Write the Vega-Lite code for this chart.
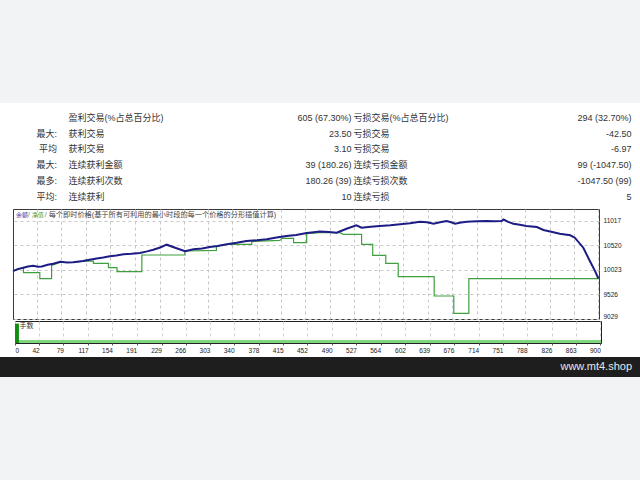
{
  "$schema": "https://vega.github.io/schema/vega-lite/v6.json",
  "padding": 0,
  "background": "#ffffff",
  "spacing": 0,
  "bounds": "full",
  "config": {
    "view": {"stroke": null},
    "font": "Liberation Sans, Noto Sans CJK SC, sans-serif",
    "text": {"font": "Liberation Sans, Noto Sans CJK SC, sans-serif"},
    "axis": {"labelFont": "Liberation Sans, DejaVu Sans, sans-serif", "labelColor": "#222222"}
  },
  "datasets": {
    "stats": [
      {"row": 1, "a": "", "b": "盈利交易(%占总百分比)", "c": "605 (67.30%)", "d": "亏损交易(%占总百分比)", "e": "294 (32.70%)"},
      {"row": 2, "a": "最大:", "b": "获利交易", "c": "23.50", "d": "亏损交易", "e": "-42.50"},
      {"row": 3, "a": "平均", "b": "获利交易", "c": "3.10", "d": "亏损交易", "e": "-6.97"},
      {"row": 4, "a": "最大:", "b": "连续获利金额", "c": "39 (180.26)", "d": "连续亏损金额", "e": "99 (-1047.50)"},
      {"row": 5, "a": "最多:", "b": "连续获利次数", "c": "180.26 (39)", "d": "连续亏损次数", "e": "-1047.50 (99)"},
      {"row": 6, "a": "平均:", "b": "连续获利", "c": "10", "d": "连续亏损", "e": "5"}
    ],
    "balance": [
      {"t": 5, "bal": 10000}, {"t": 12, "bal": 10040}, {"t": 20.7, "bal": 10069}, {"t": 28, "bal": 10095},
      {"t": 36, "bal": 10110}, {"t": 43, "bal": 10090}, {"t": 49, "bal": 10094}, {"t": 58, "bal": 10130},
      {"t": 66.6, "bal": 10151}, {"t": 77, "bal": 10189}, {"t": 88, "bal": 10175}, {"t": 97, "bal": 10179},
      {"t": 112, "bal": 10205}, {"t": 122, "bal": 10230}, {"t": 133, "bal": 10256}, {"t": 143, "bal": 10275},
      {"t": 153, "bal": 10301}, {"t": 163, "bal": 10318}, {"t": 174, "bal": 10341}, {"t": 186, "bal": 10352},
      {"t": 199, "bal": 10368}, {"t": 210, "bal": 10400}, {"t": 219.5, "bal": 10435}, {"t": 230, "bal": 10480},
      {"t": 240, "bal": 10536}, {"t": 254, "bal": 10470}, {"t": 268, "bal": 10402}, {"t": 281, "bal": 10443},
      {"t": 294, "bal": 10460}, {"t": 306, "bal": 10489}, {"t": 318, "bal": 10510}, {"t": 332, "bal": 10544},
      {"t": 347, "bal": 10575}, {"t": 362, "bal": 10611}, {"t": 378, "bal": 10625}, {"t": 393, "bal": 10646},
      {"t": 408, "bal": 10680}, {"t": 423, "bal": 10713}, {"t": 438, "bal": 10735}, {"t": 454, "bal": 10774},
      {"t": 465, "bal": 10790}, {"t": 474, "bal": 10804}, {"t": 488, "bal": 10795}, {"t": 500, "bal": 10780},
      {"t": 515, "bal": 10860}, {"t": 530, "bal": 10930}, {"t": 538, "bal": 10881}, {"t": 552, "bal": 10900},
      {"t": 566, "bal": 10916}, {"t": 582, "bal": 10930}, {"t": 597, "bal": 10950}, {"t": 612, "bal": 10970},
      {"t": 627, "bal": 11003}, {"t": 638, "bal": 10990}, {"t": 648, "bal": 10962}, {"t": 658, "bal": 10990},
      {"t": 668, "bal": 11017}, {"t": 675, "bal": 10990}, {"t": 681, "bal": 10962}, {"t": 690, "bal": 10985},
      {"t": 699, "bal": 11003}, {"t": 714, "bal": 11010}, {"t": 729, "bal": 11017}, {"t": 741, "bal": 11010},
      {"t": 752, "bal": 11017}, {"t": 755, "bal": 11047}, {"t": 762, "bal": 11000}, {"t": 770, "bal": 10962},
      {"t": 780, "bal": 10940}, {"t": 790, "bal": 10916}, {"t": 806, "bal": 10895}, {"t": 816, "bal": 10834},
      {"t": 828, "bal": 10800}, {"t": 841, "bal": 10759}, {"t": 857, "bal": 10727}, {"t": 864, "bal": 10678},
      {"t": 877, "bal": 10475}, {"t": 887, "bal": 10205}, {"t": 895, "bal": 10000}, {"t": 900, "bal": 9850}
    ],
    "equity": [
      {"t": 5, "eq": 10000}, {"t": 21, "eq": 10069}, {"t": 21, "eq": 9968}, {"t": 46, "eq": 9968},
      {"t": 46, "eq": 9846}, {"t": 64, "eq": 9846}, {"t": 64, "eq": 10118}, {"t": 77, "eq": 10175},
      {"t": 97, "eq": 10175}, {"t": 112, "eq": 10200}, {"t": 128, "eq": 10205}, {"t": 128, "eq": 10159},
      {"t": 151, "eq": 10159}, {"t": 151, "eq": 10069}, {"t": 164, "eq": 10069}, {"t": 164, "eq": 9988},
      {"t": 202, "eq": 9988}, {"t": 202, "eq": 10327}, {"t": 268, "eq": 10327}, {"t": 268, "eq": 10408},
      {"t": 316, "eq": 10422}, {"t": 316, "eq": 10510}, {"t": 332, "eq": 10544}, {"t": 370, "eq": 10544},
      {"t": 370, "eq": 10600}, {"t": 413, "eq": 10625}, {"t": 416, "eq": 10666}, {"t": 434, "eq": 10666},
      {"t": 434, "eq": 10577}, {"t": 454, "eq": 10577}, {"t": 454, "eq": 10759}, {"t": 474, "eq": 10780},
      {"t": 505, "eq": 10780}, {"t": 510, "eq": 10747}, {"t": 538, "eq": 10747}, {"t": 538, "eq": 10544},
      {"t": 555, "eq": 10544}, {"t": 555, "eq": 10321}, {"t": 575, "eq": 10321}, {"t": 575, "eq": 10159},
      {"t": 594, "eq": 10159}, {"t": 594, "eq": 9887}, {"t": 649, "eq": 9887}, {"t": 649, "eq": 9495},
      {"t": 679, "eq": 9495}, {"t": 679, "eq": 9144}, {"t": 702, "eq": 9144}, {"t": 702, "eq": 9846},
      {"t": 901, "eq": 9846}
    ],
    "lotsFirst": [{"from": 5, "to": 11, "lots": 0.88}],
    "lotsRest": [{"t": 5, "lots": 0.07}, {"t": 901, "lots": 0.07}]
  },
  "vconcat": [
    {
      "width": 640, "height": 103,
      "view": {"fill": "#f2f3f5", "stroke": null},
      "data": {"values": [{"s": " "}]},
      "mark": {"type": "text"},
      "encoding": {"text": {"field": "s"}}
    },
    {
      "width": 640, "height": 105,
      "data": {"name": "stats"},
      "transform": [{"fold": ["a", "b", "c", "d", "e"], "as": ["col", "txt"]}],
      "encoding": {
        "y": {"field": "row", "type": "ordinal", "scale": {"type": "point", "range": [14.7, 93.7], "padding": 0}, "axis": null},
        "text": {"field": "txt"}
      },
      "layer": [
        {
          "transform": [{"filter": "datum.col == 'a'"}],
          "mark": {"type": "text", "align": "right", "baseline": "middle", "fontSize": 9, "color": "#333333"},
          "encoding": {"x": {"field": "col", "type": "nominal", "scale": {"type": "point", "domain": ["a"], "range": [57, 57], "padding": 0}, "axis": null}}
        },
        {
          "transform": [{"filter": "datum.col == 'b' || datum.col == 'd'"}],
          "mark": {"type": "text", "align": "left", "baseline": "middle", "fontSize": 9, "color": "#333333"},
          "encoding": {"x": {"field": "col", "type": "nominal", "scale": {"type": "point", "domain": ["b", "d"], "range": [68.5, 353.5], "padding": 0}, "axis": null}}
        },
        {
          "transform": [{"filter": "datum.col == 'c' || datum.col == 'e'"}],
          "mark": {"type": "text", "align": "right", "baseline": "middle", "fontSize": 9, "color": "#333333"},
          "encoding": {"x": {"field": "col", "type": "nominal", "scale": {"type": "point", "domain": ["c", "e"], "range": [351.5, 631.5], "padding": 0}, "axis": null}}
        }
      ],
      "resolve": {"scale": {"x": "independent"}}
    },
    {
      "spacing": 0,
      "hconcat": [
        {
          "width": 8, "height": 110,
          "view": {"fill": "#ffffff", "stroke": null},
          "data": {"values": [{"s": " "}]},
          "mark": {"type": "text"},
          "encoding": {"text": {"field": "s"}}
        },
        {
          "width": 586, "height": 110,
          "view": {"stroke": "#3a3a3a", "strokeWidth": 1},
          "layer": [
            {
              "data": {"name": "equity"},
              "mark": {"type": "line", "color": "#3f9f3f", "strokeWidth": 1.2},
              "encoding": {
                "x": {"field": "t", "type": "quantitative", "scale": {"domain": [5, 901], "nice": false, "zero": false},
                      "axis": {"orient": "bottom", "values": [42, 79, 117, 154, 191, 229, 266, 303, 340, 378, 415, 452, 490, 527, 564, 602, 639, 676, 714, 751, 788, 826, 863, 900],
                               "labels": false, "ticks": false, "domain": false, "grid": true, "gridColor": "#c8c8c8", "gridDash": [3, 3], "title": null, "minExtent": 0, "maxExtent": 0}},
                "y": {"field": "eq", "type": "quantitative", "scale": {"domain": [9029, 11260], "nice": false, "zero": false},
                      "axis": {"orient": "right", "values": [9029, 9526, 10023, 10520, 11017], "format": "d", "grid": true, "gridColor": "#c8c8c8", "gridDash": [3, 3],
                               "ticks": false, "domain": false, "labelPadding": 4, "labelFontSize": 6.5, "labelFlush": true, "title": null}}
              }
            },
            {
              "data": {"name": "balance"},
              "mark": {"type": "line", "color": "#1c1c84", "strokeWidth": 2},
              "encoding": {
                "x": {"field": "t", "type": "quantitative", "axis": null},
                "y": {"field": "bal", "type": "quantitative", "axis": null}
              }
            },
            {
              "data": {"values": [{"s": "余额"}]},
              "mark": {"type": "text", "align": "left", "baseline": "middle", "fontSize": 6, "color": "#3a3aa8"},
              "encoding": {"x": {"datum": 9.6, "type": "quantitative", "axis": null}, "y": {"datum": 11138, "type": "quantitative", "axis": null}, "text": {"field": "s"}}
            },
            {
              "data": {"values": [{"s": "/"}]},
              "mark": {"type": "text", "align": "left", "baseline": "middle", "fontSize": 7, "color": "#777777"},
              "encoding": {"x": {"datum": 28, "type": "quantitative", "axis": null}, "y": {"datum": 11138, "type": "quantitative", "axis": null}, "text": {"field": "s"}}
            },
            {
              "data": {"values": [{"s": "净值"}]},
              "mark": {"type": "text", "align": "left", "baseline": "middle", "fontSize": 6, "color": "#3aa03a"},
              "encoding": {"x": {"datum": 33.5, "type": "quantitative", "axis": null}, "y": {"datum": 11138, "type": "quantitative", "axis": null}, "text": {"field": "s"}}
            },
            {
              "data": {"values": [{"s": "/"}]},
              "mark": {"type": "text", "align": "left", "baseline": "middle", "fontSize": 7, "color": "#777777"},
              "encoding": {"x": {"datum": 53.5, "type": "quantitative", "axis": null}, "y": {"datum": 11138, "type": "quantitative", "axis": null}, "text": {"field": "s"}}
            },
            {
              "data": {"values": [{"s": "每个即时价格(基于所有可利用的最小时段的每一个价格的分形插值计算)"}]},
              "mark": {"type": "text", "align": "left", "baseline": "middle", "fontSize": 7.2, "color": "#444444"},
              "encoding": {"x": {"datum": 59.5, "type": "quantitative", "axis": null}, "y": {"datum": 11138, "type": "quantitative", "axis": null}, "text": {"field": "s"}}
            }
          ],
          "resolve": {"axis": {"x": "independent", "y": "independent"}}
        }
      ]
    },
    {
      "spacing": 0,
      "hconcat": [
        {
          "width": 8, "height": 22,
          "view": {"fill": "#ffffff", "stroke": null},
          "data": {"values": [{"s": " "}]},
          "mark": {"type": "text"},
          "encoding": {"text": {"field": "s"}}
        },
        {
          "width": 586, "height": 22,
          "view": {"stroke": "#222222", "strokeWidth": 1},
          "layer": [
            {
              "data": {"name": "lotsRest"},
              "mark": {"type": "line", "color": "#7fd67f", "strokeWidth": 3},
              "encoding": {
                "x": {"field": "t", "type": "quantitative", "scale": {"domain": [5, 901], "nice": false, "zero": false},
                      "axis": {"orient": "bottom", "values": [5, 42, 79, 117, 154, 191, 229, 266, 303, 340, 378, 415, 452, 490, 527, 564, 602, 639, 676, 714, 751, 788, 826, 863, 900],
                               "labelExpr": "datum.value == 5 ? '0' : datum.label",
                               "labelAlign": {"condition": {"test": "datum.value == 5", "value": "left"}, "value": "right"},
                               "labelFontSize": 6.5, "labelPadding": 2, "tickSize": 2, "tickColor": "#555555", "labelOverlap": false,
                               "domain": false, "grid": true, "gridColor": "#d0d0d0", "gridDash": [3, 3], "title": null, "minExtent": 13, "maxExtent": 13}},
                "y": {"field": "lots", "type": "quantitative", "scale": {"domain": [0, 1], "nice": false}, "axis": null}
              }
            },
            {
              "data": {"name": "lotsFirst"},
              "mark": {"type": "rect", "color": "#0f8f0f"},
              "encoding": {
                "x": {"field": "from", "type": "quantitative", "axis": null},
                "x2": {"field": "to"},
                "y": {"field": "lots", "type": "quantitative", "axis": null},
                "y2": {"datum": 0}
              }
            },
            {
              "data": {"values": [{"s": "手数"}]},
              "mark": {"type": "text", "align": "left", "baseline": "middle", "fontSize": 7, "color": "#333333"},
              "encoding": {"x": {"datum": 11.8, "type": "quantitative", "axis": null}, "y": {"datum": 0.78, "type": "quantitative", "axis": null}, "text": {"field": "s"}}
            }
          ],
          "resolve": {"axis": {"x": "independent", "y": "independent"}}
        }
      ]
    },
    {
      "width": 640, "height": 20,
      "view": {"fill": "#1e1e1e", "stroke": null},
      "data": {"values": [{"s": "www.mt4.shop"}]},
      "mark": {"type": "text", "align": "right", "baseline": "middle", "fontSize": 11, "color": "#e8e8e8", "font": "Liberation Sans", "dx": -8},
      "encoding": {
        "x": {"datum": 1, "type": "quantitative", "scale": {"domain": [0, 1]}, "axis": null},
        "y": {"datum": 0.5, "type": "quantitative", "scale": {"domain": [0, 1]}, "axis": null},
        "text": {"field": "s"}
      }
    },
    {
      "width": 640, "height": 103,
      "view": {"fill": "#f2f3f5", "stroke": null},
      "data": {"values": [{"s": " "}]},
      "mark": {"type": "text"},
      "encoding": {"text": {"field": "s"}}
    }
  ]
}
